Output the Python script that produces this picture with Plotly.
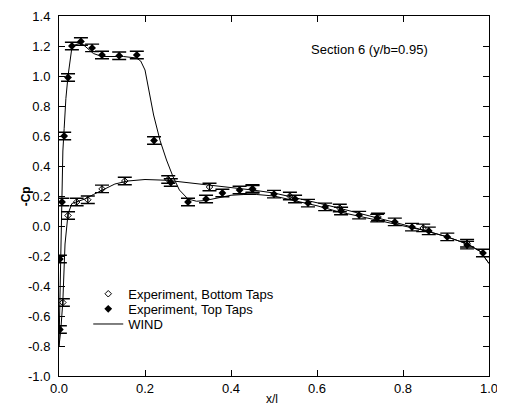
import plotly.graph_objects as go

# Experiment, top taps
top_x = [0.002, 0.002, 0.007, 0.012, 0.021, 0.030, 0.051, 0.077, 0.100, 0.140, 0.181, 0.221,
         0.260, 0.300, 0.342, 0.380, 0.420, 0.450, 0.500, 0.549, 0.579, 0.619, 0.656, 0.698,
         0.740, 0.781, 0.821, 0.860, 0.903, 0.949, 0.986]
top_y = [-0.69, -0.22, 0.16, 0.60, 0.99, 1.20, 1.23, 1.187, 1.14, 1.135, 1.14, 0.57,
         0.29, 0.16, 0.18, 0.22, 0.24, 0.245, 0.213, 0.18, 0.153, 0.127, 0.10, 0.073,
         0.053, 0.027, -0.007, -0.033, -0.073, -0.127, -0.18]

# Experiment, bottom taps
bot_x = [0.009, 0.021, 0.041, 0.067, 0.100, 0.153, 0.254, 0.350, 0.450, 0.537, 0.653, 0.742, 0.847, 0.949]
bot_y = [-0.51, 0.07, 0.16, 0.175, 0.247, 0.30, 0.31, 0.26, 0.25, 0.20, 0.12, 0.06, -0.013, -0.115]

err = 0.025

# WIND upper surface
wind_top_x = [0.0, 0.002, 0.005, 0.009, 0.012, 0.016, 0.021, 0.026, 0.030, 0.040, 0.050, 0.060,
              0.080, 0.100, 0.120, 0.150, 0.180, 0.190, 0.200, 0.210, 0.220, 0.235, 0.250,
              0.265, 0.280, 0.300, 0.320, 0.340, 0.370, 0.400, 0.430, 0.460, 0.500, 0.550,
              0.600, 0.650, 0.700, 0.750, 0.800, 0.850, 0.900, 0.950, 0.980, 1.000]
wind_top_y = [-0.80, -0.45, 0.00, 0.50, 0.65, 0.85, 1.00, 1.13, 1.19, 1.21, 1.22, 1.20,
              1.15, 1.13, 1.13, 1.13, 1.12, 1.10, 1.04, 0.90, 0.74, 0.57, 0.44,
              0.33, 0.24, 0.18, 0.165, 0.17, 0.19, 0.205, 0.21, 0.21, 0.20, 0.17,
              0.135, 0.095, 0.065, 0.035, 0.005, -0.03, -0.07, -0.12, -0.17, -0.25]

# WIND lower surface
wind_bot_x = [0.0, 0.004, 0.009, 0.014, 0.021, 0.030, 0.040, 0.060, 0.080, 0.100, 0.130, 0.160,
              0.200, 0.250, 0.300, 0.350, 0.400, 0.450, 0.500, 0.550, 0.600, 0.650, 0.700,
              0.750, 0.800, 0.850, 0.900, 0.950, 0.980, 1.000]
wind_bot_y = [-0.80, -0.70, -0.50, -0.12, 0.08, 0.15, 0.16, 0.18, 0.21, 0.24, 0.28, 0.30,
              0.31, 0.305, 0.29, 0.27, 0.255, 0.24, 0.22, 0.19, 0.155, 0.12, 0.085,
              0.05, 0.01, -0.03, -0.07, -0.12, -0.17, -0.25]

x_ticks = [0.0, 0.2, 0.4, 0.6, 0.8, 1.0]
x_ticktext = ["0.0", "0.2", "0.4", "0.6", "0.8", "1.0"]
y_ticks = [1.4, 1.2, 1.0, 0.8, 0.6, 0.4, 0.2, 0.0, -0.2, -0.4, -0.6, -0.8, -1.0]
y_ticktext = ["1.4", "1.2", "1.0", "0.8", "0.6", "0.4", "0.2", "0.0", "-0.2", "-0.4", "-0.6", "-0.8", "-1.0"]

FONT = "Liberation Sans, Arial, sans-serif"

fig = go.Figure()

fig.add_trace(go.Scatter(
    x=bot_x, y=bot_y, mode="markers", name="Experiment, Bottom Taps", legend="legend",
    marker=dict(symbol="diamond-open", size=5, color="black", line=dict(width=1, color="black")),
    error_y=dict(type="constant", value=err, color="black", thickness=1.3, width=7),
))
fig.add_trace(go.Scatter(
    x=top_x, y=top_y, mode="markers", name="Experiment, Top Taps", legend="legend2",
    marker=dict(symbol="diamond", size=6, color="black"),
    error_y=dict(type="constant", value=err, color="black", thickness=1.3, width=7),
))
fig.add_trace(go.Scatter(
    x=wind_top_x, y=wind_top_y, mode="lines", name="WIND", legend="legend3",
    line=dict(color="black", width=1),
))
fig.add_trace(go.Scatter(
    x=wind_bot_x, y=wind_bot_y, mode="lines", name="WIND", showlegend=False,
    line=dict(color="black", width=1),
))

fig.add_annotation(
    x=0.723, y=1.18, xref="x", yref="y", text="Section 6 (y/b=0.95)", showarrow=False,
    font=dict(size=13, color="black", family=FONT),
)
# axis titles
fig.add_annotation(
    x=-0.097, y=0.5, xref="paper", yref="paper", text="<b>-Cp</b>", showarrow=False,
    textangle=-90, font=dict(size=12, color="black", family=FONT),
)
fig.add_annotation(
    x=0.495, y=-0.088, xref="paper", yref="paper", text="x/l", showarrow=False,
    font=dict(size=12, color="black", family=FONT),
)

axis_common = dict(
    showgrid=False, zeroline=False, showline=True, linecolor="black", linewidth=1,
    mirror="ticks", ticks="inside", ticklen=6, tickcolor="black", tickwidth=1,
    automargin=False, ticklabeloverflow="allow",
    tickfont=dict(size=13, color="black", family=FONT),
)

fig.update_xaxes(range=[0, 1.0], tickvals=x_ticks, ticktext=x_ticktext, **axis_common)
fig.update_yaxes(range=[-1.0, 1.4], tickvals=y_ticks, ticktext=y_ticktext,
                 ticklabelstandoff=5, **axis_common)

leg_common = dict(x=0.068, xanchor="left", yanchor="top", bgcolor="rgba(0,0,0,0)",
                  font=dict(size=13, color="black", family=FONT), itemwidth=30)

fig.update_layout(
    width=505, height=410,
    margin=dict(l=51, r=24, t=8, b=42, autoexpand=False),
    plot_bgcolor="white", paper_bgcolor="white",
    font=dict(family=FONT, color="black", size=12),
    legend=dict(y=0.270, **leg_common),
    legend2=dict(y=0.228, **leg_common),
    legend3=dict(y=0.186, **leg_common),
    showlegend=True,
)

fig.write_html("out.html")
